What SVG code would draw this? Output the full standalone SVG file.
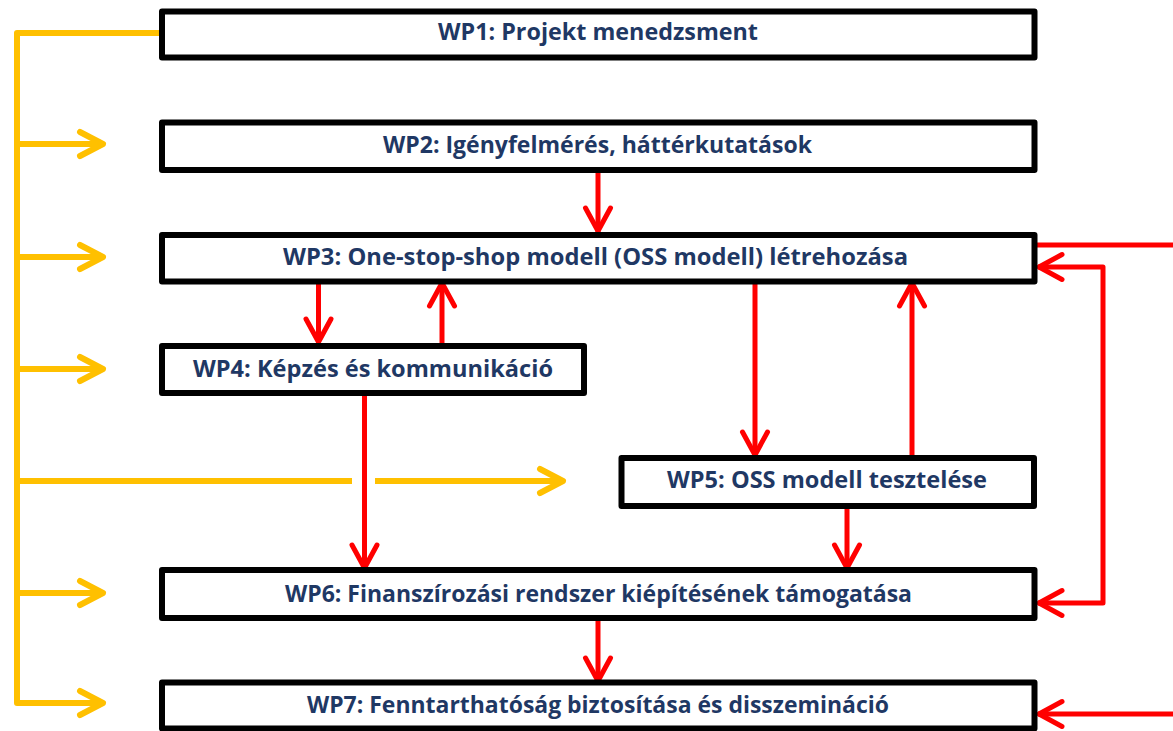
<svg xmlns="http://www.w3.org/2000/svg" width="1173" height="731" viewBox="0 0 1173 731">
<style>
.box{fill:#FFFFFF;stroke:#000000;stroke-width:6;stroke-linejoin:round}
.lbl{font-family:"Open Sans","Liberation Sans",sans-serif;font-weight:700;font-size:23px;fill:#1F3864;text-anchor:middle}
.y{fill:none;stroke:#FFC000;stroke-width:6;stroke-linejoin:round}
.r{fill:none;stroke:#FF0000;stroke-width:5;stroke-linejoin:round}
</style>
<defs>
<marker id="ya" markerUnits="userSpaceOnUse" orient="auto" overflow="visible" markerWidth="1" markerHeight="1" refX="0" refY="0">
<path d="M-24,-12 L-1,0 L-24,12" fill="none" stroke="#FFC000" stroke-width="6" stroke-linecap="round" stroke-linejoin="round"/>
</marker>
<marker id="ra" markerUnits="userSpaceOnUse" orient="auto" overflow="visible" markerWidth="1" markerHeight="1" refX="0" refY="0">
<path d="M-24,-12.5 L-1,0 L-24,12.5" fill="none" stroke="#FF0000" stroke-width="5" stroke-linecap="round" stroke-linejoin="round"/>
</marker>
<marker id="ras" markerUnits="userSpaceOnUse" orient="auto-start-reverse" overflow="visible" markerWidth="1" markerHeight="1" refX="0" refY="0">
<path d="M-24,-12.5 L-1,0 L-24,12.5" fill="none" stroke="#FF0000" stroke-width="5" stroke-linecap="round" stroke-linejoin="round"/>
</marker>
</defs>
<rect x="0" y="0" width="1173" height="731" fill="#FFFFFF"/>

<g id="connectors">
<path class="y" d="M160,33 H17 V703 H104" marker-end="url(#ya)"/>
<path class="y" d="M17,144 H104" marker-end="url(#ya)"/>
<path class="y" d="M17,257 H104" marker-end="url(#ya)"/>
<path class="y" d="M17,369 H104" marker-end="url(#ya)"/>
<path class="y" d="M17,481 H352"/>
<path class="y" d="M375,481 H564" marker-end="url(#ya)"/>
<path class="y" d="M17,593 H104" marker-end="url(#ya)"/>

<path class="r" d="M598,171 V232" marker-end="url(#ra)"/>
<path class="r" d="M318.5,282 V343" marker-end="url(#ra)"/>
<path class="r" d="M442,345 V282" marker-end="url(#ra)"/>
<path class="r" d="M755,282 V456" marker-end="url(#ra)"/>
<path class="r" d="M912,457 V282" marker-end="url(#ra)"/>
<path class="r" d="M364.5,394 V569" marker-end="url(#ra)"/>
<path class="r" d="M847,507 V569" marker-end="url(#ra)"/>
<path class="r" d="M598,619 V682" marker-end="url(#ra)"/>
<path class="r" d="M1037,245 H1173"/>
<path class="r" d="M1038,267 H1103 V603 H1038" marker-start="url(#ras)" marker-end="url(#ra)"/>
<path class="r" d="M1173,714 H1038" marker-end="url(#ra)"/>
</g>

<g id="wp1">
<rect class="box" x="162" y="11.5" width="872.5" height="46"/>
<text class="lbl" x="598" y="40" textLength="320" lengthAdjust="spacingAndGlyphs">WP1: Projekt menedzsment</text>
</g>
<g id="wp2">
<rect class="box" x="162" y="122.5" width="872.5" height="47.5"/>
<text class="lbl" x="597.5" y="153" textLength="429" lengthAdjust="spacingAndGlyphs">WP2: Igényfelmérés, háttérkutatások</text>
</g>
<g id="wp3">
<rect class="box" x="162" y="235" width="872.5" height="46.5"/>
<text class="lbl" x="595.5" y="265" textLength="625" lengthAdjust="spacingAndGlyphs">WP3: One-stop-shop modell (OSS modell) létrehozása</text>
</g>
<g id="wp4">
<rect class="box" x="162" y="346" width="422" height="47"/>
<text class="lbl" x="373" y="377" textLength="360" lengthAdjust="spacingAndGlyphs">WP4: Képzés és kommunikáció</text>
</g>
<g id="wp5">
<rect class="box" x="621.5" y="458" width="412.5" height="48"/>
<text class="lbl" x="827" y="488" textLength="320" lengthAdjust="spacingAndGlyphs">WP5: OSS modell tesztelése</text>
</g>
<g id="wp6">
<rect class="box" x="162" y="570" width="872.5" height="48"/>
<text class="lbl" x="598.5" y="602" textLength="627" lengthAdjust="spacingAndGlyphs">WP6: Finanszírozási rendszer kiépítésének támogatása</text>
</g>
<g id="wp7">
<rect class="box" x="162" y="682.5" width="872.5" height="46"/>
<text class="lbl" x="598" y="713" textLength="582" lengthAdjust="spacingAndGlyphs">WP7: Fenntarthatóság biztosítása és disszemináció</text>
</g>
</svg>
